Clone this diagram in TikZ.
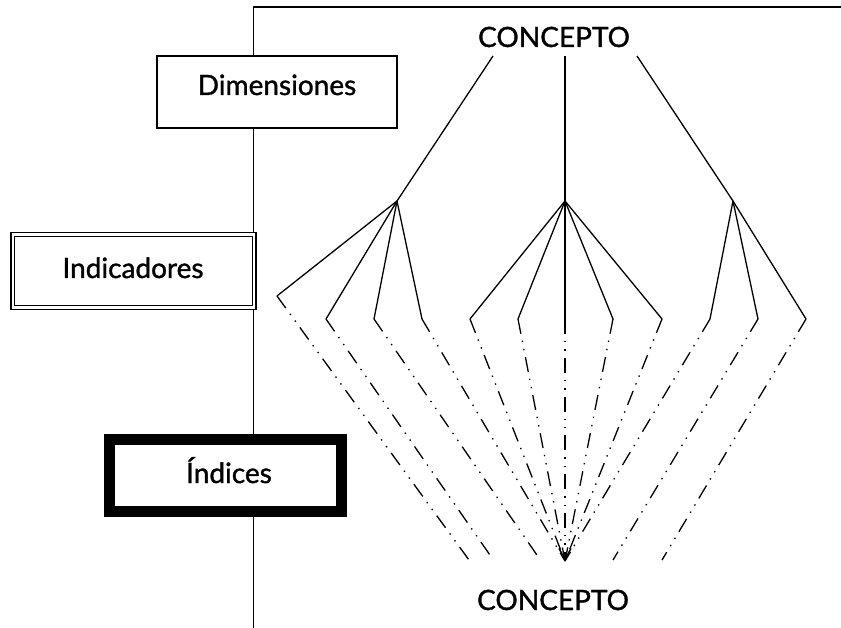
\documentclass[tikz,border=0pt]{standalone}
\usepackage{fontspec}
\setmainfont{Lato}
\newfontfamily\lblfont{Lato}[FakeBold=1.2]
\usetikzlibrary{arrows.meta}
\begin{document}
\begin{tikzpicture}[x=1pt,y=-1pt,
  frame/.style={line width=1.8pt},
  solidln/.style={line width=1.3pt},
  ddd/.style={line width=1.3pt, dash pattern=on 15pt off 7pt on 1.4pt off 7pt on 1.4pt off 7pt},
  lbl/.style={font=\lblfont\fontsize{28}{30}\selectfont, anchor=base, inner sep=0pt},
  dimbox/.style={draw, fill=white, line width=1.2pt, inner sep=0pt, minimum width=240pt, minimum height=72pt},
  indbox/.style={draw, fill=white, double, double distance=2.2pt, line width=1.6pt, inner sep=0pt, minimum width=241.5pt, minimum height=73pt},
  idxbox/.style={draw, fill=white, line width=11pt, inner sep=0pt, minimum width=231.5pt, minimum height=72pt}
]
\useasboundingbox (0,0) rectangle (841,628);
% frame lines
\coordinate (fTop) at (253.5,7);
\coordinate (fRight) at (841,7);
\coordinate (fBot) at (253.5,628);
\draw[frame] (fRight) -- (fTop) -- (fBot);
% level boxes
\node[dimbox] (dim) at (277,92) {};
\node[indbox] (ind) at (133.5,271) {};
\node[idxbox] (idx) at (225.25,475.5) {};
\node[lbl] (dimt) at (277,95) {Dimensiones};
\node[lbl] (indt) at (133,278) {Indicadores};
\node[lbl] (idxt) at (229,483) {Índices};
% concepts
\node[lbl] (ctop) at (554,47) {CONCEPTO};
\node[lbl] (cbot) at (553,610) {CONCEPTO};
% points
\coordinate (tL) at (493,56);
\coordinate (tC) at (565,56);
\coordinate (tR) at (637,56);
\coordinate (hL) at (397,201);
\coordinate (hC) at (565,201);
\coordinate (hR) at (733,201);
\coordinate (b1) at (277,296);
\coordinate (b2) at (326,319);
\coordinate (b3) at (374,319);
\coordinate (b4) at (422,319);
\coordinate (b5) at (470,319);
\coordinate (b6) at (518,319);
\coordinate (b7) at (565,319);
\coordinate (b8) at (613,319);
\coordinate (b9) at (662,319);
\coordinate (b10) at (710,319);
\coordinate (b11) at (758,319);
\coordinate (b12) at (806,319);
\coordinate (e1) at (469,560);
\coordinate (e2) at (492,558);
\coordinate (e3) at (539,558);
\coordinate (tip) at (565,561);
\coordinate (e11) at (613,560);
\coordinate (e12) at (662,560);
% dimensions
\draw[solidln] (tL) -- (hL);
\draw[solidln] (tC) -- (hC);
\draw[solidln] (tR) -- (hR);
% indicators
\foreach \b in {b1,b2,b3,b4} \draw[solidln] (hL) -- (\b);
\foreach \b in {b5,b6,b7,b8,b9} \draw[solidln] (hC) -- (\b);
\foreach \b in {b10,b11,b12} \draw[solidln] (hR) -- (\b);
% indices
\draw[ddd] (b1) -- (e1);
\draw[ddd] (b2) -- (e2);
\draw[ddd] (b3) -- (e3);
\foreach \b in {b4,b5,b6,b8,b9,b10} \draw[ddd] (\b) -- (tip);
\draw[ddd, -{Straight Barb[length=11pt,width=12pt,line width=1.5pt]}] (b7) -- (tip);
\draw[ddd] (b11) -- (e11);
\draw[ddd] (b12) -- (e12);
\end{tikzpicture}
\end{document}
